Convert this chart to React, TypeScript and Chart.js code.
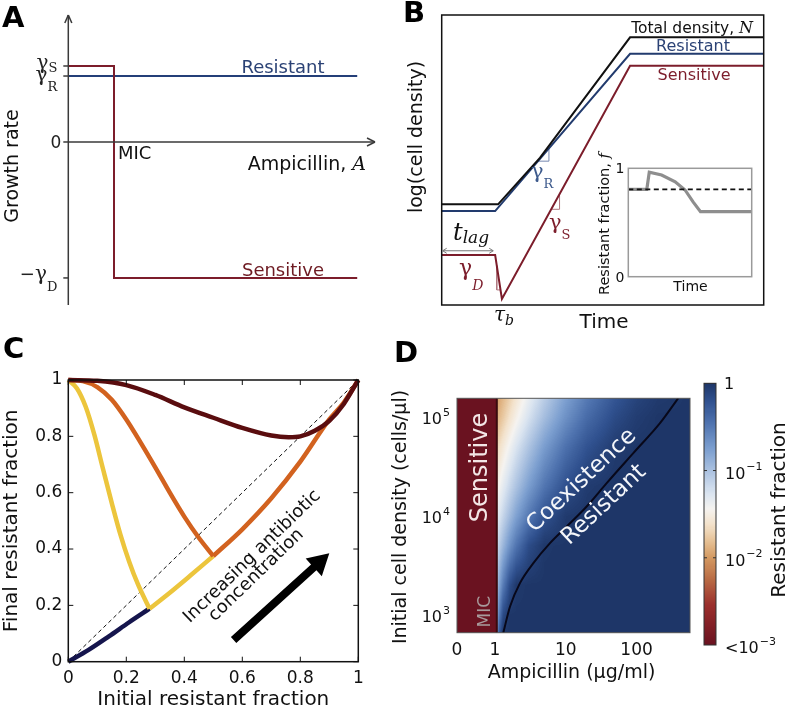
import React, { useEffect, useRef } from "react";
import { Chart, registerables } from "chart.js";

Chart.register(...registerables);

const SANS = '"DejaVu Sans", Verdana, sans-serif';
const SERIF = '"DejaVu Serif", "Liberation Serif", serif';
Chart.defaults.font.family = SANS;

// ================= Panel A : growth rate vs ampicillin =================
const A_X_RANGE = [0, 10];
const A_Y_RANGE = [-2.145, 1.671];
const A_GAMMA_S = 1.0;
const A_GAMMA_R = 0.868;
const A_GAMMA_D = 1.789;
const A_MIC = 1.49;
const A_X_END = 9.42;
const A_RES_X = [0, A_X_END];
const A_RES_Y = [A_GAMMA_R, A_GAMMA_R];
const A_SEN_X = [0, A_MIC, A_MIC, A_X_END];
const A_SEN_Y = [A_GAMMA_S, A_GAMMA_S, -A_GAMMA_D, -A_GAMMA_D];

// ================= Panel B : log density vs time =================
const B_T_RANGE = [0, 10];
const B_LOGN_RANGE = [0, 10];
const B_TOTAL_T = [0, 1.75, 3.05, 5.85, 10];
const B_TOTAL_LOGN = [3.47, 3.47, 5.07, 9.23, 9.23];
const B_RES_T = [0, 1.66, 5.85, 10];
const B_RES_LOGN = [3.24, 3.24, 8.66, 8.66];
const B_SEN_T = [0, 1.66, 1.87, 5.85, 10];
const B_SEN_LOGN = [1.72, 1.72, 0.21, 8.25, 8.25];
const B_SLOPE_R_T = [2.99, 3.33, 3.33];
const B_SLOPE_R_LOGN = [4.96, 4.96, 5.4];
const B_SLOPE_S_T = [3.4, 3.66, 3.66];
const B_SLOPE_S_LOGN = [3.3, 3.3, 3.83];
const B_SLOPE_D_T = [1.71, 1.71, 1.83];
const B_SLOPE_D_LOGN = [1.36, 0.52, 0.52];
const B_LAG_T = [0, 1.6];
const B_LAG_LOGN = 1.87;

// inset: resistant fraction vs time
const INSET_T = [0, 1.5, 1.7, 2.7, 3.8, 4.6, 5.25, 5.85, 10];
const INSET_F = [0.806, 0.806, 0.965, 0.938, 0.876, 0.8, 0.69, 0.6, 0.6];
const INSET_F0 = 0.806;
const INSET_YTICKS = [0, 1];

// ================= Panel C : final vs initial resistant fraction =================
const C_TICKS = [0, 0.2, 0.4, 0.6, 0.8, 1];
const C_DIAG_X = [0, 1];
const C_DIAG_Y = [0, 1];
const C_HIGH_X = [0, 0.1, 0.2, 0.3, 0.4, 0.5, 0.6, 0.7, 0.76, 0.8, 0.85, 0.9, 0.95, 1];
const C_HIGH_Y = [1, 0.997, 0.982, 0.947, 0.903, 0.866, 0.83, 0.803, 0.797, 0.8, 0.82, 0.855, 0.915, 1];
const C_MID_LEFT_X = [0, 0.05, 0.1, 0.15, 0.2, 0.25, 0.3, 0.35, 0.4, 0.45, 0.5];
const C_MID_LEFT_Y = [1, 0.996, 0.975, 0.93, 0.86, 0.777, 0.69, 0.6, 0.515, 0.44, 0.375];
const C_MID_RIGHT_X = [0.5, 0.6, 0.7, 0.8, 0.9, 0.95, 1];
const C_MID_RIGHT_Y = [0.375, 0.47, 0.58, 0.71, 0.86, 0.92, 1];
const C_LOW_LEFT_X = [0, 0.03, 0.06, 0.09, 0.12, 0.15, 0.18, 0.21, 0.24, 0.28];
const C_LOW_LEFT_Y = [1, 0.97, 0.905, 0.805, 0.683, 0.563, 0.45, 0.355, 0.275, 0.188];
const C_LOW_RIGHT_X = [0.28, 0.35, 0.42, 0.5];
const C_LOW_RIGHT_Y = [0.188, 0.245, 0.305, 0.375];
const C_NONE_X = [0, 0.07, 0.14, 0.21, 0.28];
const C_NONE_Y = [0, 0.042, 0.09, 0.14, 0.188];
const C_ARROW_X = [0.57, 0.9];
const C_ARROW_Y = [0.077, 0.385];

// ================= Panel D : heatmap =================
const D_LIN_WIDTH = 0.537; // axis length of the linear 0..1 segment, in decades
const D_MIC = 1.06;
const D_AMP_MAX = 568;
const D_DENS_RANGE = [660, 155000];
const D_XTICKS = [0, 1, 10, 100];
const D_YTICKS = [1000, 10000, 100000];
const D_AMP = [1.06, 1.15, 1.3, 1.6, 2, 3, 5, 10, 20, 50, 100, 200, 570];
const D_DENS = [660, 1000, 2000, 5000, 10000, 20000, 50000, 100000, 160000];
const D_LOGF_N660 = [-0.7, -0.26, 0, 0, 0, 0, 0, 0, 0, 0, 0, 0, 0];
const D_LOGF_N1000 = [-0.85, -0.51, -0.16, 0, 0, 0, 0, 0, 0, 0, 0, 0, 0];
const D_LOGF_N2000 = [-1.0, -0.79, -0.52, -0.19, -0.02, 0, 0, 0, 0, 0, 0, 0, 0];
const D_LOGF_N5000 = [-1.2, -1.08, -0.92, -0.68, -0.46, -0.17, -0.01, 0, 0, 0, 0, 0, 0];
const D_LOGF_N1E4 = [-1.35, -1.27, -1.15, -0.96, -0.77, -0.49, -0.22, -0.03, 0, 0, 0, 0, 0];
const D_LOGF_N2E4 = [-1.5, -1.43, -1.33, -1.17, -1.01, -0.75, -0.47, -0.2, -0.04, 0, 0, 0, 0];
const D_LOGF_N5E4 = [-1.7, -1.64, -1.55, -1.41, -1.26, -1.02, -0.74, -0.44, -0.22, -0.04, 0, 0, 0];
const D_LOGF_N1E5 = [-1.9, -1.84, -1.76, -1.62, -1.48, -1.24, -0.97, -0.66, -0.4, -0.16, -0.05, 0, 0];
const D_LOGF_N16E4 = [-2.0, -1.94, -1.86, -1.73, -1.59, -1.36, -1.09, -0.77, -0.51, -0.245, -0.11, -0.03, 0];
const D_BOUND_AMP = [1.31, 1.63, 2.25, 3.48, 5.98, 10.3, 19.7, 37.8, 89.8, 214, 388];
const D_BOUND_DENS = [660, 1213, 2094, 3336, 5310, 7820, 12480, 21500, 43200, 86900, 155600];
const CB_RANGE = [0.001, 1];
const CB_TICKS = [1, 0.1, 0.01, 0.001];

const D_GRID = [D_LOGF_N660, D_LOGF_N1000, D_LOGF_N2000, D_LOGF_N5000, D_LOGF_N1E4, D_LOGF_N2E4, D_LOGF_N5E4, D_LOGF_N1E5, D_LOGF_N16E4];

// colormap (log10 resistant fraction from -3 to 0)
const CMAP_STOPS: [number, string][] = [
  [0, "#6a1220"], [0.15, "#9a2e2c"], [0.25, "#b86a44"], [0.333, "#d49a62"], [0.4, "#e6c297"],
  [0.46, "#f3e2cb"], [0.52, "#f5f3f0"], [0.58, "#dae4f0"], [0.667, "#aac1e0"], [0.75, "#7b9ecf"],
  [0.85, "#4e72ae"], [0.93, "#30518f"], [1, "#1e3668"],
];

// ================= helpers =================
const font = (size: number, family = SANS, style = "") => `${style ? style + " " : ""}${size}px ${family}`;

function hexRgb(h: string) {
  return [parseInt(h.slice(1, 3), 16), parseInt(h.slice(3, 5), 16), parseInt(h.slice(5, 7), 16)];
}
const LUT: number[][] = (() => {
  const out: number[][] = [];
  for (let i = 0; i < 256; i++) {
    const t = i / 255;
    let k = 0;
    while (k < CMAP_STOPS.length - 2 && CMAP_STOPS[k + 1][0] < t) k++;
    const [t0, c0] = CMAP_STOPS[k];
    const [t1, c1] = CMAP_STOPS[k + 1];
    const f = Math.max(0, Math.min(1, (t - t0) / (t1 - t0)));
    const a = hexRgb(c0), b = hexRgb(c1);
    out.push([0, 1, 2].map((j) => Math.round(a[j] + (b[j] - a[j]) * f)));
  }
  return out;
})();
function colorFor(v: number) {
  const t = Math.max(0, Math.min(1, (v + 3) / 3));
  return LUT[Math.round(t * 255)];
}

function toU(a: number) {
  return a <= 1 ? a * D_LIN_WIDTH : D_LIN_WIDTH + Math.log10(a);
}
function fromU(u: number) {
  return u <= D_LIN_WIDTH ? u / D_LIN_WIDTH : Math.pow(10, u - D_LIN_WIDTH);
}
const LOG_AMP = D_AMP.map((a) => Math.log10(a));
const LOG_DENS = D_DENS.map((n) => Math.log10(n));
function locate(arr: number[], v: number): [number, number] {
  if (v <= arr[0]) return [0, 0];
  if (v >= arr[arr.length - 1]) return [arr.length - 2, 1];
  let i = 0;
  while (arr[i + 1] < v) i++;
  return [i, (v - arr[i]) / (arr[i + 1] - arr[i])];
}
function heatValue(a: number, n: number) {
  if (a < D_MIC) return -3;
  const [i, fx] = locate(LOG_AMP, Math.log10(a));
  const [j, fy] = locate(LOG_DENS, Math.log10(n));
  const v00 = D_GRID[j][i], v10 = D_GRID[j][i + 1], v01 = D_GRID[j + 1][i], v11 = D_GRID[j + 1][i + 1];
  return (v00 * (1 - fx) + v10 * fx) * (1 - fy) + (v01 * (1 - fx) + v11 * fx) * fy;
}

function txt(ctx: any, s: string, x: number, y: number, f: string, color: string, align = "left", baseline = "alphabetic", rot = 0) {
  ctx.save();
  ctx.translate(x, y);
  if (rot) ctx.rotate((rot * Math.PI) / 180);
  ctx.font = f;
  ctx.fillStyle = color;
  ctx.textAlign = align;
  ctx.textBaseline = baseline;
  ctx.fillText(s, 0, 0);
  ctx.restore();
}
type Part = { s: string; f: string; dy?: number };
function parts(ctx: any, ps: Part[], x: number, y: number, color: string, align = "left", baseline = "alphabetic", rot = 0) {
  ctx.save();
  ctx.translate(x, y);
  if (rot) ctx.rotate((rot * Math.PI) / 180);
  ctx.fillStyle = color;
  ctx.textBaseline = baseline;
  ctx.textAlign = "left";
  const ws = ps.map((p) => {
    ctx.font = p.f;
    return ctx.measureText(p.s).width;
  });
  const total = ws.reduce((s, w) => s + w, 0);
  let cx = align === "right" ? -total : align === "center" ? -total / 2 : 0;
  ps.forEach((p, i) => {
    ctx.font = p.f;
    ctx.fillText(p.s, cx, p.dy || 0);
    cx += ws[i];
  });
  ctx.restore();
}
function seg(ctx: any, x0: number, y0: number, x1: number, y1: number) {
  ctx.beginPath();
  ctx.moveTo(x0, y0);
  ctx.lineTo(x1, y1);
  ctx.stroke();
}
function pow10Label(ctx: any, prefix: string, exp: string, x: number, y: number, size: number, color: string, align = "left") {
  const bf = font(size), ef = font(Math.round(size * 0.7));
  ctx.save();
  ctx.font = bf;
  const w1 = ctx.measureText(prefix + "10").width;
  ctx.font = ef;
  const w2 = ctx.measureText(exp).width;
  const x0 = align === "right" ? x - w1 - w2 - 1 : x;
  ctx.fillStyle = color;
  ctx.textAlign = "left";
  ctx.textBaseline = "middle";
  ctx.font = bf;
  ctx.fillText(prefix + "10", x0, y);
  ctx.font = ef;
  ctx.fillText(exp, x0 + w1 + 1, y - size * 0.45);
  ctx.restore();
}

function series(xs: number[], ys: number[], color: string, width: number, extra: any = {}) {
  return {
    data: xs.map((x, i) => ({ x, y: ys[i] })),
    borderColor: color,
    borderWidth: width,
    pointRadius: 0,
    fill: false,
    tension: 0,
    ...extra,
  };
}
function makeConfig(datasets: any[], padding: any, xScale: any, yScale: any, plugins: any[]) {
  return {
    type: "line",
    data: { datasets },
    options: {
      responsive: false,
      maintainAspectRatio: false,
      animation: false,
      devicePixelRatio: 1,
      events: [],
      layout: { padding },
      plugins: { legend: { display: false }, tooltip: { enabled: false }, title: { display: false } },
      scales: {
        x: { type: "linear", bounds: "data", display: false, ...xScale },
        y: { type: "linear", bounds: "data", display: false, ...yScale },
      },
    },
    plugins,
  };
}

// ================= Panel A =================
const RED = "#7c1d2b";
const BLUE = "#243f78";
const plugA = {
  id: "pA",
  afterDatasetsDraw(chart: any) {
    const { ctx } = chart;
    const xs = chart.scales.x, ys = chart.scales.y;
    const X = (v: number) => xs.getPixelForValue(v), Y = (v: number) => ys.getPixelForValue(v);
    ctx.save();
    ctx.strokeStyle = "#3a3a3a";
    ctx.lineWidth = 1.5;
    const x0 = X(0), y0 = Y(0), yb = Y(A_Y_RANGE[0]), yt = Y(A_Y_RANGE[1]), xr = X(A_X_RANGE[1]);
    seg(ctx, x0, yb, x0, yt);
    seg(ctx, x0 - 3.5, yt + 8, x0, yt);
    seg(ctx, x0 + 3.5, yt + 8, x0, yt);
    seg(ctx, x0, y0, xr, y0);
    seg(ctx, xr - 8, y0 - 4, xr, y0);
    seg(ctx, xr - 8, y0 + 4, xr, y0);
    [A_GAMMA_S, A_GAMMA_R, 0, -A_GAMMA_D].forEach((v) => seg(ctx, x0 - 5, Y(v), x0, Y(v)));
    const c = "#222";
    parts(ctx, [{ s: "γ", f: font(20, SERIF) }, { s: "S", f: font(13, SERIF), dy: 3.5 }], x0 - 11, Y(A_GAMMA_S) + 3, c, "right");
    parts(ctx, [{ s: "γ", f: font(20, SERIF) }, { s: "R", f: font(13, SERIF), dy: 10 }], x0 - 11, Y(A_GAMMA_R) + 5, c, "right");
    txt(ctx, "0", x0 - 7, Y(0) + 6, font(17), c, "right");
    parts(ctx, [{ s: "−", f: font(18) }, { s: "γ", f: font(20, SERIF) }, { s: "D", f: font(13, SERIF), dy: 11 }], x0 - 11, Y(-A_GAMMA_D) + 2, c, "right");
    txt(ctx, "Resistant", 283, Y(A_GAMMA_R) - 3, font(18), "#2b4275", "center");
    txt(ctx, "Sensitive", 283, Y(-A_GAMMA_D) - 2, font(18), "#6e1a22", "center");
    txt(ctx, "MIC", X(A_MIC) + 4, 159, font(18), "#111");
    parts(ctx, [{ s: "Ampicillin, ", f: font(19) }, { s: "A", f: font(19, SERIF, "italic") }], 366, 170, "#111", "right");
    txt(ctx, "Growth rate", 13, 166, font(19), "#111", "center", "middle", -90);
    txt(ctx, "A", 2, 26.7, font(29, SANS, "bold"), "#000");
    ctx.restore();
  },
};
const buildA = () =>
  makeConfig(
    [series(A_SEN_X, A_SEN_Y, RED, 2), series(A_RES_X, A_RES_Y, BLUE, 2)],
    { left: 68.3, top: 15, right: 20, bottom: 25 },
    { min: A_X_RANGE[0], max: A_X_RANGE[1] },
    { min: A_Y_RANGE[0], max: A_Y_RANGE[1] },
    [plugA]
  );

// ================= Panel B =================
const B_OX = 395, B_OY = 0;
const plugB = {
  id: "pB",
  afterDatasetsDraw(chart: any) {
    const { ctx, chartArea: ca } = chart;
    const xs = chart.scales.x, ys = chart.scales.y;
    ctx.save();
    ctx.strokeStyle = "#111";
    ctx.lineWidth = 1.5;
    ctx.strokeRect(ca.left, ca.top, ca.right - ca.left, ca.bottom - ca.top);
    // lag double arrow
    const ly = ys.getPixelForValue(B_LAG_LOGN);
    const lx0 = xs.getPixelForValue(B_LAG_T[0]) + 1, lx1 = xs.getPixelForValue(B_LAG_T[1]);
    ctx.strokeStyle = "#777";
    ctx.lineWidth = 1;
    seg(ctx, lx0, ly, lx1, ly);
    seg(ctx, lx0, ly, lx0 + 4, ly - 2.5);
    seg(ctx, lx0, ly, lx0 + 4, ly + 2.5);
    seg(ctx, lx1, ly, lx1 - 4, ly - 2.5);
    seg(ctx, lx1, ly, lx1 - 4, ly + 2.5);
    ctx.translate(-B_OX, -B_OY);
    parts(ctx, [{ s: "Total density, ", f: font(15.5) }, { s: "N", f: font(16, SERIF, "italic") }], 753, 33, "#111", "right");
    txt(ctx, "Resistant", 693, 51, font(16), "#2b4275", "center");
    txt(ctx, "Sensitive", 694, 80, font(16), RED, "center");
    parts(ctx, [{ s: "γ", f: font(21, SERIF) }, { s: "R", f: font(13, SERIF), dy: 10 }], 531, 178, "#3d5a8c");
    parts(ctx, [{ s: "γ", f: font(21, SERIF) }, { s: "S", f: font(13, SERIF), dy: 10 }], 549, 229, RED);
    parts(ctx, [{ s: "γ", f: font(22, SERIF) }, { s: "D", f: font(14, SERIF, "italic"), dy: 15 }], 459, 275, RED);
    parts(ctx, [{ s: "t", f: font(24, SERIF, "italic") }, { s: "lag", f: font(17, SERIF, "italic"), dy: 3 }], 453, 240, "#111");
    parts(ctx, [{ s: "τ", f: font(20, SERIF, "italic") }, { s: "b", f: font(14, SERIF, "italic"), dy: 4 }], 494, 321, "#111");
    txt(ctx, "Time", 604, 328, font(20), "#111", "center");
    txt(ctx, "log(cell density)", 417, 137, font(19), "#111", "center", "middle", -90);
    txt(ctx, "B", 403, 21.7, font(29, SANS, "bold"), "#000");
    ctx.restore();
  },
};
const buildB = () =>
  makeConfig(
    [
      series(B_TOTAL_T, B_TOTAL_LOGN, "#111111", 2),
      series(B_RES_T, B_RES_LOGN, "#223b6e", 2),
      series(B_SEN_T, B_SEN_LOGN, RED, 2),
      series(B_SLOPE_R_T, B_SLOPE_R_LOGN, "#7688b0", 1),
      series(B_SLOPE_S_T, B_SLOPE_S_LOGN, "#b07880", 1),
      series(B_SLOPE_D_T, B_SLOPE_D_LOGN, "#b07880", 1),
    ],
    { left: 46.7, top: 15, right: 26.3, bottom: 25 },
    { min: B_T_RANGE[0], max: B_T_RANGE[1] },
    { min: B_LOGN_RANGE[0], max: B_LOGN_RANGE[1] },
    [plugB]
  );

// ================= Inset =================
const IN_OX = 595, IN_OY = 140;
const plugInset = {
  id: "pIn",
  afterDatasetsDraw(chart: any) {
    const { ctx, chartArea: ca } = chart;
    const ys = chart.scales.y;
    ctx.save();
    ctx.strokeStyle = "#9a9a9a";
    ctx.lineWidth = 1.5;
    ctx.strokeRect(ca.left, ca.top, ca.right - ca.left, ca.bottom - ca.top);
    INSET_YTICKS.forEach((t) => txt(ctx, String(t), ca.left - 4, ys.getPixelForValue(t) + 5, font(14), "#111", "right"));
    txt(ctx, "Time", (ca.left + ca.right) / 2 + 0.5, ca.bottom + 14.5, font(14), "#111", "center");
    ctx.translate(-IN_OX, -IN_OY);
    parts(ctx, [{ s: "Resistant fraction, ", f: font(14.5) }, { s: "f", f: font(15, SERIF, "italic") }], 605, 224, "#111", "center", "middle", -90);
    ctx.restore();
  },
};
const buildInset = () =>
  makeConfig(
    [
      series(B_T_RANGE, [INSET_F0, INSET_F0], "#111111", 1.6, { borderDash: [5, 3.5] }),
      series(INSET_T, INSET_F, "#8e8e8e", 3.2),
    ],
    { left: 33.3, top: 28.3, right: 8.3, bottom: 23.3 },
    { min: B_T_RANGE[0], max: B_T_RANGE[1] },
    { min: 0, max: 1 },
    [plugInset]
  );

// ================= Panel C =================
const C_OX = 0, C_OY = 330;
const plugC = {
  id: "pC",
  afterDatasetsDraw(chart: any) {
    const { ctx, chartArea: ca } = chart;
    const xs = chart.scales.x, ys = chart.scales.y;
    const X = (v: number) => xs.getPixelForValue(v), Y = (v: number) => ys.getPixelForValue(v);
    ctx.save();
    // arrow
    const p0 = { x: X(C_ARROW_X[0]), y: Y(C_ARROW_Y[0]) };
    const p1 = { x: X(C_ARROW_X[1]), y: Y(C_ARROW_Y[1]) };
    const L = Math.hypot(p1.x - p0.x, p1.y - p0.y);
    const ux = (p1.x - p0.x) / L, uy = (p1.y - p0.y) / L;
    const nx = -uy, ny = ux;
    const hl = 21, hw = 12, sw = 4;
    const bx = p1.x - ux * hl, by = p1.y - uy * hl;
    ctx.fillStyle = "#000";
    ctx.beginPath();
    ctx.moveTo(p0.x + nx * sw, p0.y + ny * sw);
    ctx.lineTo(bx + nx * sw, by + ny * sw);
    ctx.lineTo(bx + nx * hw, by + ny * hw);
    ctx.lineTo(p1.x, p1.y);
    ctx.lineTo(bx - nx * hw, by - ny * hw);
    ctx.lineTo(bx - nx * sw, by - ny * sw);
    ctx.lineTo(p0.x - nx * sw, p0.y - ny * sw);
    ctx.closePath();
    ctx.fill();
    txt(ctx, "Increasing antibiotic", X(0.634), Y(0.373), font(18), "#111", "center", "middle", -44);
    txt(ctx, "concentration", X(0.648), Y(0.307), font(18), "#111", "center", "middle", -44);
    // frame and ticks
    ctx.strokeStyle = "#111";
    ctx.lineWidth = 1.5;
    ctx.strokeRect(ca.left, ca.top, ca.right - ca.left, ca.bottom - ca.top);
    ctx.lineWidth = 1;
    const lab = (t: number) => (t === 0 ? "0" : t === 1 ? "1" : t.toFixed(1));
    C_TICKS.forEach((t) => {
      const px = X(t), py = Y(t);
      seg(ctx, px, ca.bottom, px, ca.bottom - 5);
      seg(ctx, px, ca.top, px, ca.top + 5);
      seg(ctx, ca.left, py, ca.left + 5, py);
      seg(ctx, ca.right, py, ca.right - 5, py);
      txt(ctx, lab(t), px, ca.bottom + 21.5, font(17), "#111", "center");
      txt(ctx, lab(t), ca.left - 6, py, font(17), "#111", "right", "middle");
    });
    txt(ctx, "Initial resistant fraction", (ca.left + ca.right) / 2, ca.bottom + 43.5, font(20), "#111", "center");
    txt(ctx, "Final resistant fraction", 12, (ca.top + ca.bottom) / 2, font(20), "#111", "center", "middle", -90);
    ctx.translate(-C_OX, -C_OY);
    txt(ctx, "C", 3, 358.3, font(29, SANS, "bold"), "#000");
    ctx.restore();
  },
};
const smooth = { cubicInterpolationMode: "monotone", clip: 6 };
const buildC = () =>
  makeConfig(
    [
      series(C_HIGH_X, C_HIGH_Y, "#5a0d0f", 4.5, smooth),
      series(C_MID_RIGHT_X, C_MID_RIGHT_Y, "#d2621f", 4.5, smooth),
      series(C_MID_LEFT_X, C_MID_LEFT_Y, "#d2621f", 4.5, smooth),
      series(C_LOW_RIGHT_X, C_LOW_RIGHT_Y, "#ecc53c", 4.5, smooth),
      series(C_LOW_LEFT_X, C_LOW_LEFT_Y, "#ecc53c", 4.5, smooth),
      series(C_NONE_X, C_NONE_Y, "#15154d", 4.5, smooth),
      series(C_DIAG_X, C_DIAG_Y, "#111111", 1, { borderDash: [4, 3] }),
    ],
    { left: 68.3, top: 50, right: 26.7, bottom: 48.3 },
    { min: 0, max: 1 },
    { min: 0, max: 1 },
    [plugC]
  );

// ================= Panel D =================
const D_OX = 385, D_OY = 330;
const plugDHeat = {
  id: "pDheat",
  beforeDatasetsDraw(chart: any) {
    const { ctx, chartArea: ca } = chart;
    const xs = chart.scales.x, ys = chart.scales.y;
    const L = Math.floor(ca.left), T = Math.floor(ca.top);
    const W = Math.ceil(ca.right) - L, H = Math.ceil(ca.bottom) - T;
    const off = document.createElement("canvas");
    off.width = W;
    off.height = H;
    const octx = off.getContext("2d") as CanvasRenderingContext2D;
    const img = octx.createImageData(W, H);
    const amps: number[] = [];
    for (let i = 0; i < W; i++) amps.push(fromU(xs.getValueForPixel(L + i + 0.5)));
    for (let j = 0; j < H; j++) {
      const n = ys.getValueForPixel(T + j + 0.5);
      for (let i = 0; i < W; i++) {
        const c = colorFor(heatValue(amps[i], n));
        const k = (j * W + i) * 4;
        img.data[k] = c[0];
        img.data[k + 1] = c[1];
        img.data[k + 2] = c[2];
        img.data[k + 3] = 255;
      }
    }
    octx.putImageData(img, 0, 0);
    ctx.save();
    ctx.beginPath();
    ctx.rect(ca.left, ca.top, ca.right - ca.left, ca.bottom - ca.top);
    ctx.clip();
    ctx.drawImage(off, L, T);
    const mx = xs.getPixelForValue(toU(D_MIC));
    ctx.strokeStyle = "#3a0a0e";
    ctx.lineWidth = 2;
    seg(ctx, mx, ca.top, mx, ca.bottom);
    ctx.restore();
  },
  afterDatasetsDraw(chart: any) {
    const { ctx, chartArea: ca } = chart;
    const xs = chart.scales.x, ys = chart.scales.y;
    ctx.save();
    ctx.strokeStyle = "#555";
    ctx.lineWidth = 1;
    ctx.strokeRect(ca.left, ca.top, ca.right - ca.left, ca.bottom - ca.top);
    D_XTICKS.forEach((t) => txt(ctx, String(t), xs.getPixelForValue(toU(t)), ca.bottom + 22.3, font(17), "#111", "center"));
    D_YTICKS.forEach((t) => pow10Label(ctx, "", String(Math.round(Math.log10(t))), ca.left - 7, ys.getPixelForValue(t) + 3, 16, "#111", "right"));
    txt(ctx, "Ampicillin (μg/ml)", (ca.left + ca.right) / 2 - 2, ca.bottom + 45.3, font(19), "#111", "center");
    ctx.translate(-D_OX, -D_OY);
    txt(ctx, "Initial cell density (cells/μl)", 401, 517, font(19), "#111", "center", "middle", -90);
    txt(ctx, "Sensitive", 481, 467.5, font(24), "#f3e6e6", "center", "middle", -90);
    txt(ctx, "MIC", 486, 611.7, font(17), "#a89a9c", "center", "middle", -90);
    txt(ctx, "Coexistence", 581.7, 480.7, font(23), "#f4f6fa", "center", "middle", -43);
    txt(ctx, "Resistant", 604, 505, font(23), "#f4f6fa", "center", "middle", -43);
    txt(ctx, "D", 394, 361.7, font(29, SANS, "bold"), "#000");
    ctx.restore();
  },
};
const buildD = () =>
  makeConfig(
    [series(D_BOUND_AMP.map(toU), D_BOUND_DENS, "#08081a", 2, { cubicInterpolationMode: "monotone" })],
    { left: 72, top: 68.3, right: 10, bottom: 77.3 },
    { min: 0, max: toU(D_AMP_MAX) },
    { type: "logarithmic", min: D_DENS_RANGE[0], max: D_DENS_RANGE[1] },
    [plugDHeat]
  );

// ================= Colorbar =================
const CB_OX = 700, CB_OY = 330;
const plugCB = {
  id: "pCB",
  afterDatasetsDraw(chart: any) {
    const { ctx, chartArea: ca } = chart;
    const ys = chart.scales.y;
    ctx.save();
    const top = Math.floor(ca.top), bot = Math.ceil(ca.bottom);
    for (let py = top; py < bot; py++) {
      const v = Math.log10(ys.getValueForPixel(py + 0.5));
      const c = colorFor(v);
      ctx.fillStyle = `rgb(${c[0]},${c[1]},${c[2]})`;
      ctx.fillRect(ca.left, py, ca.right - ca.left, 1);
    }
    ctx.strokeStyle = "#333";
    ctx.lineWidth = 1;
    ctx.strokeRect(ca.left, ca.top, ca.right - ca.left, ca.bottom - ca.top);
    CB_TICKS.forEach((t, i) => {
      const py = ys.getPixelForValue(t);
      if (i > 0 && i < CB_TICKS.length - 1) {
        seg(ctx, ca.left, py, ca.left + 3, py);
        seg(ctx, ca.right, py, ca.right - 3, py);
      }
      const e = Math.round(Math.log10(t));
      if (e === 0) txt(ctx, "1", ca.right + 8, py + 2, font(16), "#111", "left", "middle");
      else pow10Label(ctx, i === CB_TICKS.length - 1 ? "<" : "", "−" + String(-e), ca.right + 9, py + 4, 16, "#111", "left");
    });
    ctx.translate(-CB_OX, -CB_OY);
    txt(ctx, "Resistant fraction", 780, 510, font(20), "#111", "center", "middle", -90);
    ctx.restore();
  },
};
const buildCB = () =>
  makeConfig(
    [],
    { left: 4, top: 53.3, right: 74, bottom: 65 },
    { min: 0, max: 1 },
    { type: "logarithmic", min: CB_RANGE[0], max: CB_RANGE[1] },
    [plugCB]
  );

// ================= components =================
function ChartCanvas(props: { left: number; top: number; width: number; height: number; build: () => any }) {
  const ref = useRef<HTMLCanvasElement | null>(null);
  useEffect(() => {
    if (!ref.current) return;
    const chart = new Chart(ref.current, props.build());
    return () => chart.destroy();
  }, []);
  return (
    <canvas
      ref={ref}
      width={props.width}
      height={props.height}
      style={{ position: "absolute", left: props.left, top: props.top, width: props.width, height: props.height }}
    />
  );
}

export default function App() {
  return (
    <div style={{ position: "fixed", left: 0, top: 0, width: 790, height: 710, background: "#fff", overflow: "hidden" }}>
      <ChartCanvas left={0} top={0} width={395} height={330} build={buildA} />
      <ChartCanvas left={B_OX} top={B_OY} width={395} height={330} build={buildB} />
      <ChartCanvas left={IN_OX} top={IN_OY} width={165} height={160} build={buildInset} />
      <ChartCanvas left={C_OX} top={C_OY} width={385} height={380} build={buildC} />
      <ChartCanvas left={D_OX} top={D_OY} width={315} height={380} build={buildD} />
      <ChartCanvas left={CB_OX} top={CB_OY} width={90} height={380} build={buildCB} />
    </div>
  );
}
